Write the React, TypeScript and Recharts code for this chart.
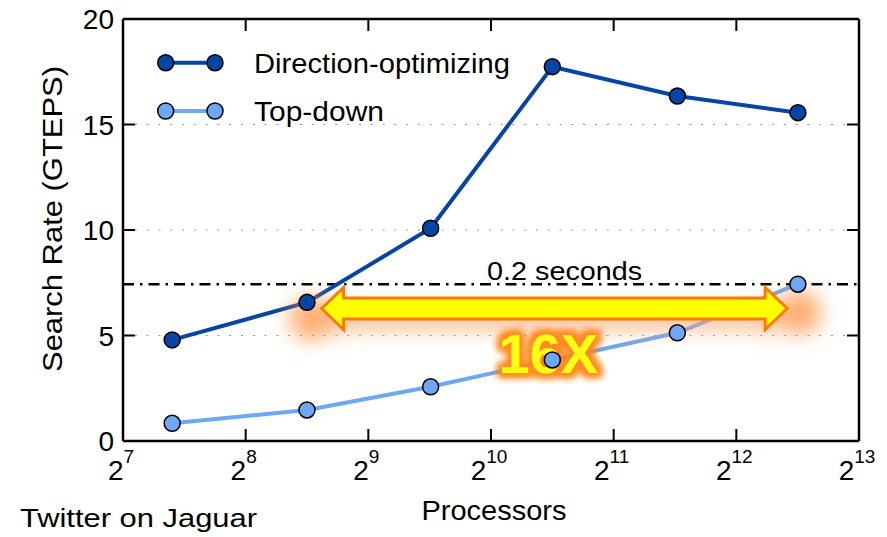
import {
    Legend,
    Line,
    LineChart,
    ReferenceLine,
    XAxis,
    YAxis,
} from "recharts";

// processor counts (log2 axis) and search rates in GTEPS
const processors = [169, 362, 728, 1448, 2935, 5800];
const directionOptimizing = [4.79, 6.57, 10.08, 17.74, 16.35, 15.56];
const topDown = [0.84, 1.47, 2.57, 3.84, 5.13, 7.43];

const xTicks = [128, 256, 512, 1024, 2048, 4096, 8192];
const yTicks = [0, 5, 10, 15, 20];
const gridLevels = [5, 10, 15];

// 0.2 second threshold and the 16x speedup arrow
const thresholdRate = 7.43;
const thresholdLabel = "0.2 seconds";
const arrowFrom = 393;
const arrowTo = 5458;
const arrowLevel = 6.28;
const speedupLabel = "16X";

const seriesNames = ["Direction-optimizing", "Top-down"];

const DARK = "#0645a6";
const LIGHT = "#6ea7f3";
const FONT = "'Liberation Sans', Arial, sans-serif";

const W = 887;
const H = 537;
const Y_AXIS_W = 60;
const X_AXIS_H = 60;
const EDGE_AXIS = 1; // top / right axes only carry the frame and tick marks
const MARGIN = { top: 19 - EDGE_AXIS, right: 28 - EDGE_AXIS, left: 63, bottom: 36 };
// plot box edges, from the margins and axis sizes above
const PLOT = {
    left: MARGIN.left + Y_AXIS_W,
    right: W - MARGIN.right - EDGE_AXIS,
    top: MARGIN.top + EDGE_AXIS,
    bottom: H - MARGIN.bottom - X_AXIS_H,
};
const TICK_LEN = 12;

const data = processors.map((procs, i) => ({
    procs,
    dir: directionOptimizing[i],
    td: topDown[i],
}));

const frameLine = { stroke: "#000", strokeWidth: 2.5 };

function BottomTick({ x, payload }: any) {
    const exp = Math.round(Math.log2(payload.value));
    return (
        <g>
            <line x1={x} y1={PLOT.bottom} x2={x} y2={PLOT.bottom - TICK_LEN} stroke="#000" strokeWidth={2} />
            <text x={x - 2} y={PLOT.bottom + 39} textAnchor="middle" fontSize={28} fill="#000" fontFamily={FONT}>
                <tspan>2</tspan>
                <tspan dy={-17} fontSize={19}>{exp}</tspan>
            </text>
        </g>
    );
}

function TopTick({ x }: any) {
    return <line x1={x} y1={PLOT.top} x2={x} y2={PLOT.top + TICK_LEN} stroke="#000" strokeWidth={2} />;
}

function LeftTick({ y, payload }: any) {
    return (
        <g>
            <line x1={PLOT.left} y1={y} x2={PLOT.left + TICK_LEN} y2={y} stroke="#000" strokeWidth={2} />
            <text x={PLOT.left - 9} y={y + 10} textAnchor="end" fontSize={28} fill="#000" fontFamily={FONT}>
                {payload.value}
            </text>
        </g>
    );
}

function RightTick({ y }: any) {
    return <line x1={PLOT.right} y1={y} x2={PLOT.right - TICK_LEN} y2={y} stroke="#000" strokeWidth={2} />;
}

function LegendBox() {
    const colors = [DARK, LIGHT];
    return (
        <svg width={400} height={80} style={{ overflow: "visible" }}>
            {seriesNames.map((name, i) => {
                const cy = 22.7 + i * 48.3;
                return (
                    <g key={name}>
                        <line x1={15.7} y1={cy} x2={65} y2={cy} stroke={colors[i]} strokeWidth={4} />
                        <circle cx={15.7} cy={cy} r={8} fill={colors[i]} stroke="#000" strokeWidth={1.5} />
                        <circle cx={65} cy={cy} r={8} fill={colors[i]} stroke="#000" strokeWidth={1.5} />
                        <text
                            x={104}
                            y={cy + 10}
                            fontSize={28}
                            fontFamily={FONT}
                            fill="#000"
                            textLength={i === 0 ? 256 : 130}
                            lengthAdjust="spacingAndGlyphs"
                        >
                            {name}
                        </text>
                    </g>
                );
            })}
        </svg>
    );
}

function SpeedupArrow({ x1, y1, x2 }: any) {
    const y = y1;
    const head = 22;
    const sh = 10.5;
    const hh = 21;
    const d = [
        `M${x1},${y}`,
        `L${x1 + head},${y - hh}`,
        `L${x1 + head},${y - sh}`,
        `L${x2 - head},${y - sh}`,
        `L${x2 - head},${y - hh}`,
        `L${x2},${y}`,
        `L${x2 - head},${y + hh}`,
        `L${x2 - head},${y + sh}`,
        `L${x1 + head},${y + sh}`,
        `L${x1 + head},${y + hh}`,
        "Z",
    ].join(" ");
    const tx = (x1 + x2) / 2 - 6;
    return (
        <g>
            <defs>
                <filter id="arrowGlow" x="-20%" y="-300%" width="140%" height="700%">
                    <feGaussianBlur stdDeviation="10" />
                </filter>
                <filter id="textGlow" x="-30%" y="-50%" width="160%" height="200%">
                    <feMorphology in="SourceAlpha" operator="dilate" radius="3.5" result="fat" />
                    <feGaussianBlur in="fat" stdDeviation="3.5" result="blur" />
                    <feFlood floodColor="#ff8214" />
                    <feComposite in2="blur" operator="in" result="glow" />
                    <feMerge>
                        <feMergeNode in="glow" />
                        <feMergeNode in="glow" />
                        <feMergeNode in="SourceGraphic" />
                    </feMerge>
                </filter>
            </defs>
            <g filter="url(#arrowGlow)" opacity={0.7}>
                <path d={d} fill="#ffa060" transform="translate(0,10)" />
                <circle cx={x1 - 10} cy={y + 10} r={22} fill="#ff8a30" />
                <circle cx={x2 + 12} cy={y + 4} r={22} fill="#ff8a30" />
            </g>
            <path d={d} fill="#ffff00" stroke="#ff7a00" strokeWidth={3} />
            <text
                x={tx}
                y={y + 65}
                textAnchor="middle"
                fontSize={56}
                fontWeight="bold"
                fill="#ffff00"
                fontFamily={FONT}
                filter="url(#textGlow)"
                opacity={0.92}
            >
                {speedupLabel}
            </text>
        </g>
    );
}

function ThresholdLabel({ viewBox }: any) {
    const x = viewBox.x + viewBox.width * 0.6;
    return (
        <text
            x={x}
            y={viewBox.y - 4}
            textAnchor="middle"
            fontSize={25}
            fontFamily={FONT}
            fill="#000"
            textLength={155}
            lengthAdjust="spacingAndGlyphs"
        >
            {thresholdLabel}
        </text>
    );
}

function XLabels() {
    return (
        <g fontFamily={FONT} fill="#000">
            <text
                x={(PLOT.left + PLOT.right) / 2 + 3}
                y={PLOT.bottom + 79}
                textAnchor="middle"
                fontSize={28}
                textLength={145}
                lengthAdjust="spacingAndGlyphs"
            >
                Processors
            </text>
            <text x={20} y={527} fontSize={25} textLength={237} lengthAdjust="spacingAndGlyphs">
                Twitter on Jaguar
            </text>
        </g>
    );
}

function YLabel() {
    return (
        <text
            x={62}
            y={219}
            transform="rotate(-90 62 219)"
            textAnchor="middle"
            fontSize={28}
            fontFamily={FONT}
            fill="#000"
            textLength={306}
            lengthAdjust="spacingAndGlyphs"
        >
            Search Rate (GTEPS)
        </text>
    );
}

export default function App() {
    return (
        <div style={{ position: "absolute", left: 0, top: 0, width: W, height: H, background: "#fff" }}>
            <LineChart width={W} height={H} data={data} margin={MARGIN} style={{ fontFamily: FONT }}>
                <XAxis
                    dataKey="procs"
                    type="number"
                    scale="log"
                    domain={[128, 8192]}
                    ticks={xTicks}
                    allowDataOverflow
                    height={X_AXIS_H}
                    tickLine={false}
                    axisLine={frameLine}
                    tick={<BottomTick />}
                    interval={0}
                    label={<XLabels />}
                />
                <XAxis
                    xAxisId="top"
                    orientation="top"
                    dataKey="procs"
                    type="number"
                    scale="log"
                    domain={[128, 8192]}
                    ticks={xTicks}
                    allowDataOverflow
                    height={EDGE_AXIS}
                    tickLine={false}
                    axisLine={frameLine}
                    tick={<TopTick />}
                    interval={0}
                />
                <YAxis
                    type="number"
                    domain={[0, 20]}
                    ticks={yTicks}
                    allowDataOverflow
                    width={Y_AXIS_W}
                    tickLine={false}
                    axisLine={frameLine}
                    tick={<LeftTick />}
                    interval={0}
                    label={<YLabel />}
                />
                <YAxis
                    yAxisId="right"
                    orientation="right"
                    type="number"
                    domain={[0, 20]}
                    ticks={yTicks}
                    allowDataOverflow
                    width={EDGE_AXIS}
                    tickLine={false}
                    axisLine={frameLine}
                    tick={<RightTick />}
                    interval={0}
                />
                {gridLevels.map((v) => (
                    <ReferenceLine
                        key={v}
                        y={v}
                        stroke="#999"
                        strokeWidth={1.2}
                        strokeDasharray="2 9.8"
                    />
                ))}
                <ReferenceLine
                    y={thresholdRate}
                    stroke="#000"
                    strokeWidth={2.5}
                    strokeDasharray="11 6 2.5 6"
                    label={<ThresholdLabel />}
                />
                <Legend
                    layout="vertical"
                    align="center"
                    verticalAlign="middle"
                    content={<LegendBox />}
                    wrapperStyle={{ left: 150, top: 40, width: 400, height: 80 }}
                />
                <Line
                    dataKey="dir"
                    name={seriesNames[0]}
                    stroke={DARK}
                    strokeWidth={4}
                    dot={{ r: 8, fill: DARK, stroke: "#000", strokeWidth: 1.5 }}
                    isAnimationActive={false}
                />
                <Line
                    dataKey="td"
                    name={seriesNames[1]}
                    stroke={LIGHT}
                    strokeWidth={4}
                    dot={{ r: 8, fill: LIGHT, stroke: "#000", strokeWidth: 1.5 }}
                    isAnimationActive={false}
                />
                <ReferenceLine
                    segment={[
                        { x: arrowFrom, y: arrowLevel },
                        { x: arrowTo, y: arrowLevel },
                    ]}
                    shape={(props: any) => <SpeedupArrow {...props} />}
                />
            </LineChart>
        </div>
    );
}
